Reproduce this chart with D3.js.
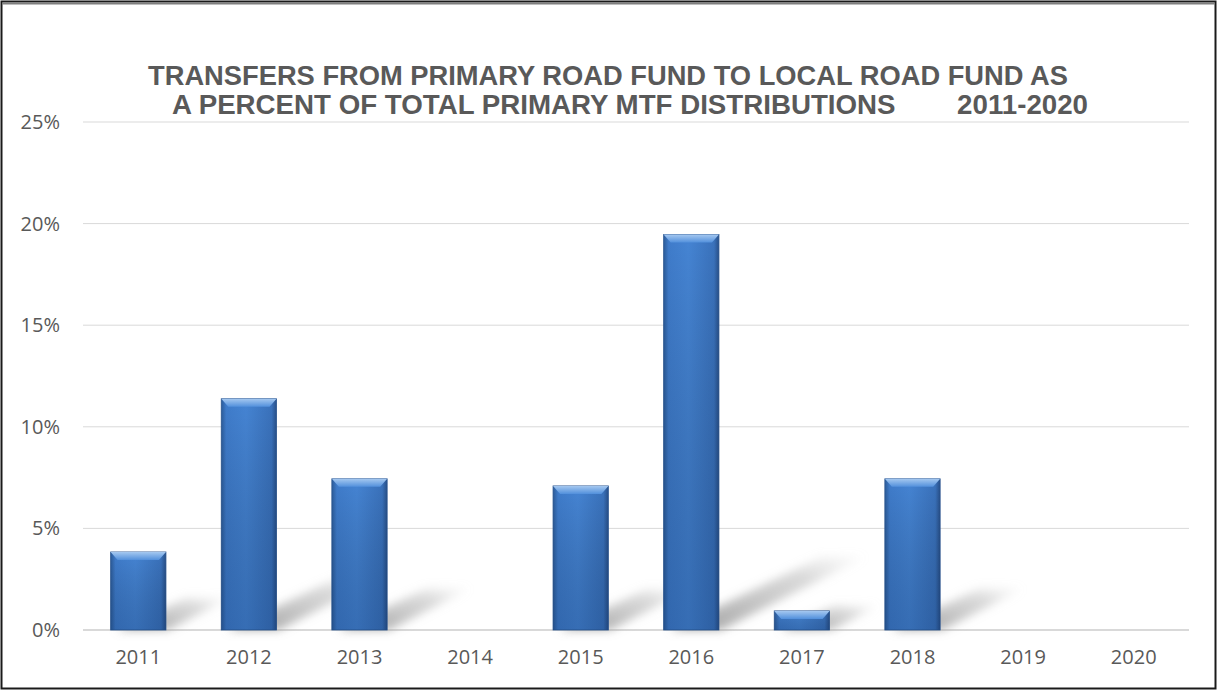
<!DOCTYPE html>
<html>
<head>
<meta charset="utf-8">
<script src="https://cdn.jsdelivr.net/npm/d3@7"></script>
<style>
  body { margin: 0; background: #fff; }
  svg { display: block; }
</style>
</head>
<body>
<div id="chart"></div>
<script>
// data
var years = ["2011", "2012", "2013", "2014", "2015", "2016", "2017", "2018", "2019", "2020"];
var transferPct = [0.0384, 0.1138, 0.0744, 0, 0.0709, 0.1946, 0.0094, 0.0744, 0, 0];
var yTicks = [0, 0.05, 0.10, 0.15, 0.20, 0.25];
var titleLines = ["TRANSFERS FROM PRIMARY ROAD FUND TO LOCAL ROAD FUND AS",
                  "A PERCENT OF TOTAL PRIMARY MTF DISTRIBUTIONS        2011-2020"];

var W = 1218, H = 690;
var margin = { top: 122, right: 29, bottom: 60, left: 83 },
  width = W - margin.left - margin.right,
  height = H - margin.top - margin.bottom;

var svg = d3.select("#chart").append("svg")
  .attr("width", W)
  .attr("height", H);

var defs = svg.append("defs");

// bar body: lighter in the middle, darker edges
var bodyGrad = defs.append("linearGradient").attr("id", "barBody")
  .attr("x1", 0).attr("x2", 1).attr("y1", 0).attr("y2", 0);
bodyGrad.append("stop").attr("offset", "0%").attr("stop-color", "#2c5c9a");
bodyGrad.append("stop").attr("offset", "9%").attr("stop-color", "#3f7ccb");
bodyGrad.append("stop").attr("offset", "45%").attr("stop-color", "#4584d3");
bodyGrad.append("stop").attr("offset", "91%").attr("stop-color", "#3a72bc");
bodyGrad.append("stop").attr("offset", "100%").attr("stop-color", "#285089");

var shadeGrad = defs.append("linearGradient").attr("id", "barShade")
  .attr("x1", 0).attr("x2", 0).attr("y1", 0).attr("y2", 1);
shadeGrad.append("stop").attr("offset", "0%").attr("stop-color", "#000").attr("stop-opacity", 0);
shadeGrad.append("stop").attr("offset", "100%").attr("stop-color", "#0a2a5a").attr("stop-opacity", 0.25);

var topGrad = defs.append("linearGradient").attr("id", "barTop")
  .attr("x1", 0).attr("x2", 0).attr("y1", 0).attr("y2", 1);
topGrad.append("stop").attr("offset", "0%").attr("stop-color", "#a5c8f0");
topGrad.append("stop").attr("offset", "100%").attr("stop-color", "#5290dc");

var shadowGrad = defs.append("linearGradient").attr("id", "shadowFade")
  .attr("x1", 0).attr("x2", 1).attr("y1", 1).attr("y2", 0);
shadowGrad.append("stop").attr("offset", "0%").attr("stop-color", "#8f8f8f").attr("stop-opacity", 0.85);
shadowGrad.append("stop").attr("offset", "70%").attr("stop-color", "#b5b5b5").attr("stop-opacity", 0.5);
shadowGrad.append("stop").attr("offset", "100%").attr("stop-color", "#d0d0d0").attr("stop-opacity", 0.05);

defs.append("filter").attr("id", "blur")
  .attr("x", "-50%").attr("y", "-50%").attr("width", "200%").attr("height", "200%")
  .append("feGaussianBlur").attr("stdDeviation", 5);

// outer frame
svg.append("rect")
  .attr("x", 1.5).attr("y", 1.5)
  .attr("width", W - 4).attr("height", H - 3)
  .style("fill", "#fff")
  .style("stroke", "#1a1a1a")
  .style("stroke-width", 2);
svg.append("line")
  .attr("x1", 2).attr("x2", W - 3).attr("y1", 3.5).attr("y2", 3.5)
  .style("stroke", "#7f7f7f").style("stroke-width", 2);

// title
var titleX = [608, 630], titleLen = [920, 916];
var title = svg.append("g")
  .attr("font-family", "Liberation Sans, Arial, sans-serif")
  .attr("font-weight", "bold")
  .attr("font-size", 27)
  .attr("fill", "#595959");
title.selectAll("text")
  .data(titleLines)
  .join("text")
    .attr("x", (d, i) => titleX[i])
    .attr("y", (d, i) => 85 + i * 29)
    .attr("text-anchor", "middle")
    .attr("textLength", (d, i) => titleLen[i])
    .attr("lengthAdjust", "spacingAndGlyphs")
    .style("white-space", "pre")
    .text(d => d);

var g = svg.append("g").attr("transform", `translate(${margin.left},${margin.top})`);

var x = d3.scaleBand().domain(years).range([0, width]).paddingInner(0.5).paddingOuter(0.25);
var y = d3.scaleLinear().domain([0, 0.25]).range([height, 0]);

// gridlines
g.append("g")
  .selectAll("line")
  .data(yTicks)
  .join("line")
    .attr("x1", 0).attr("x2", width)
    .attr("y1", d => y(d)).attr("y2", d => y(d))
    .style("stroke", "#d9d9d9")
    .style("stroke-width", d => d === 0 ? 2 : 1);

// y axis labels
var yAxis = d3.axisLeft(y).tickValues(yTicks).tickFormat(d3.format(".0%")).tickSize(0).tickPadding(23);
g.append("g")
  .attr("class", "y axis")
  .call(yAxis)
  .call(a => a.select(".domain").remove())
  .call(a => a.selectAll("text")
    .attr("font-family", "Open Sans, sans-serif")
    .attr("font-size", 20)
    .attr("fill", "#595959"));

// x axis labels
var xAxis = d3.axisBottom(x).tickSize(0).tickPadding(20);
g.append("g")
  .attr("class", "x axis")
  .attr("transform", `translate(0,${height})`)
  .call(xAxis)
  .call(a => a.select(".domain").remove())
  .call(a => a.selectAll("text")
    .attr("font-family", "Open Sans, sans-serif")
    .attr("font-size", 20)
    .attr("fill", "#595959"));

var bars = years.map((d, i) => ({ year: d, value: transferPct[i] })).filter(d => d.value > 0);

// perspective shadows behind bars
g.append("g")
  .selectAll("polygon")
  .data(bars)
  .join("polygon")
    .attr("points", d => {
      var x0 = x(d.year), x1 = x0 + x.bandwidth();
      var h = height - y(d.value);
      var dy = 22 + h * 0.13, dx = dy * 2.0;
      return [[x0 + 6, height], [x1 + 2, height], [x1 + dx, height - dy], [x0 + dx + 12, height - dy]].join(" ");
    })
    .style("fill", "url(#shadowFade)")
    .attr("filter", "url(#blur)");

// bars with bevelled top
var barG = g.append("g")
  .selectAll("g")
  .data(bars)
  .join("g")
    .attr("transform", d => `translate(${x(d.year)},0)`);

barG.append("rect")
  .attr("x", 0)
  .attr("y", d => y(d.value))
  .attr("width", x.bandwidth())
  .attr("height", d => height - y(d.value))
  .style("fill", "url(#barBody)")
  .style("stroke", "#2a5590")
  .style("stroke-width", 0.8);

barG.append("rect")
  .attr("x", 0)
  .attr("y", d => y(d.value))
  .attr("width", x.bandwidth())
  .attr("height", d => height - y(d.value))
  .style("fill", "url(#barShade)");

barG.append("polygon")
  .attr("points", d => {
    var t = y(d.value), w = x.bandwidth();
    var b = Math.min(8, (height - t) / 2);
    return [[0, t], [w, t], [w - 7, t + b], [7, t + b]].join(" ");
  })
  .style("fill", "url(#barTop)");
</script>
</body>
</html>
